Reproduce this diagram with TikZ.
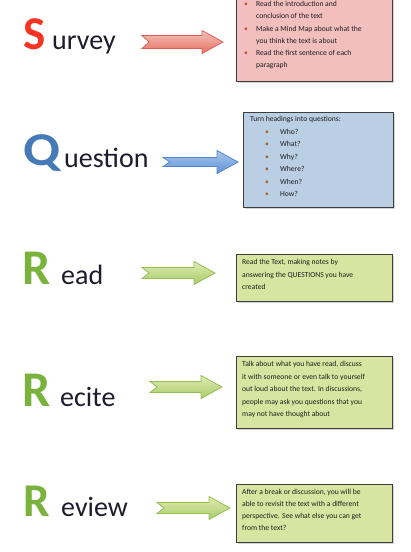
\documentclass[tikz,border=0pt]{standalone}
\usepackage{fontspec}
\setmainfont{Carlito}
\usetikzlibrary{calc,shadows}
\definecolor{surveyred}{RGB}{246,52,36}
\definecolor{questionblue}{RGB}{70,122,182}
\definecolor{rgreen}{RGB}{122,178,62}
\definecolor{wordcol}{RGB}{28,28,44}
\definecolor{notecol}{RGB}{30,30,30}
\definecolor{boxline}{RGB}{62,62,62}
\definecolor{redfill}{RGB}{242,190,190}
\definecolor{bluefill}{RGB}{186,206,228}
\definecolor{greenfill}{RGB}{216,229,160}
\definecolor{redbullet}{RGB}{205,80,60}
\definecolor{bluebullet}{RGB}{165,95,40}
\tikzset{
  bigletter/.style={inner sep=0pt,anchor=base west,font=\bfseries\fontsize{47}{47}\selectfont},
  word/.style={inner sep=0pt,anchor=base west,text=wordcol,font=\fontsize{28}{28}\selectfont},
  notebox/.style={draw=boxline,line width=1.2pt,anchor=north west,inner sep=0pt,
    drop shadow={shadow xshift=1.2pt,shadow yshift=-1.6pt,opacity=0.35}},
  boxtext/.style={inner sep=0pt,anchor=north west,align=left,text=notecol,font=\fontsize{7.6}{12.2}\selectfont},
  redarrow/.style={draw={rgb,255:red,222;green,96;blue,86},line width=0.8pt,
    top color={rgb,255:red,246;green,196;blue,188},bottom color={rgb,255:red,228;green,110;blue,98}},
  bluearrow/.style={draw={rgb,255:red,84;green,134;blue,204},line width=0.8pt,
    top color={rgb,255:red,170;green,200;blue,238},bottom color={rgb,255:red,96;green,146;blue,214}},
  greenarrow/.style={draw={rgb,255:red,150;green,190;blue,84},line width=0.8pt,
    top color={rgb,255:red,222;green,236;blue,178},bottom color={rgb,255:red,168;green,204;blue,104}}
}
\newcommand{\blockarrow}[4]{%
  \path[#3] let \p1=(#1), \p2=(#2) in
    (\x1,\y1+#4) -- (\x2-21pt,\y1+#4) -- (\x2-21pt,\y1+11.5pt) -- (\x2,\y2)
    -- (\x2-21pt,\y1-11.5pt) -- (\x2-21pt,\y1-#4) -- (\x1,\y1-#4) -- (\x1+7pt,\y1) -- cycle;}

\begin{document}
\begin{tikzpicture}[x=1pt,y=-1pt]
          \path[use as bounding box] (0,0) rectangle (410,552);
          \clip (0,0) rectangle (410,552);

          \node (s-letter) at (23.5,49) [bigletter,text=surveyred] {S};
          \node (s-word) at (52,49) [word] {urvey};
          \node (q-letter) at (23.5,165) [bigletter,text=questionblue] {\scalebox{1.15}[1]{Q}};
          \node (q-word) at (64,167.5) [word] {uestion};
          \node (r1-letter) at (22.5,284) [bigletter,text=rgreen,font=\bfseries\fontsize{50}{50}\selectfont] {R};
          \node (r1-word) at (61,284) [word] {ead};
          \node (r2-letter) at (22.5,406) [bigletter,text=rgreen,font=\bfseries\fontsize{50}{50}\selectfont] {R};
          \node (r2-word) at (60,406) [word] {ecite};
          \node (r3-letter) at (23.5,516) [bigletter,text=rgreen] {R};
          \node (r3-word) at (61,516) [word] {eview};

          \node (s-box) at (236,-6) [notebox,fill=redfill,minimum width=156pt,minimum height=87pt] {};
          \node (q-box) at (243,112) [notebox,fill=bluefill,minimum width=150pt,minimum height=95pt] {};
          \node (r1-box) at (236,254) [notebox,fill=greenfill,minimum width=156pt,minimum height=47pt] {};
          \node (r2-box) at (236,356) [notebox,fill=greenfill,minimum width=156pt,minimum height=72pt] {};
          \node (r3-box) at (236,484) [notebox,fill=greenfill,minimum width=156pt,minimum height=58pt] {};

          \coordinate (s-tail) at (142,42);   \coordinate (s-tip) at (223,42);
          \coordinate (q-tail) at (163,162);  \coordinate (q-tip) at (238,162);
          \coordinate (r1-tail) at (142,273); \coordinate (r1-tip) at (215,273);
          \coordinate (r2-tail) at (150,387); \coordinate (r2-tip) at (222,387);
          \coordinate (r3-tail) at (157,508); \coordinate (r3-tip) at (230,508);

          \blockarrow{s-tail}{s-tip}{redarrow}{6.5pt}
          \blockarrow{q-tail}{q-tip}{bluearrow}{4.5pt}
          \blockarrow{r1-tail}{r1-tip}{greenarrow}{5.5pt}
          \blockarrow{r2-tail}{r2-tip}{greenarrow}{5.5pt}
          \blockarrow{r3-tail}{r3-tip}{greenarrow}{5.5pt}

          \node (s-text) at ($(s-box.north west)+(8,7.3)$) [boxtext]
            {\makebox[12pt][l]{\textcolor{redbullet}{\textbullet}}Read the introduction and\\
             \hspace*{12pt}conclusion of the text\\
             \makebox[12pt][l]{\textcolor{redbullet}{\textbullet}}Make a Mind Map about what the\\
             \hspace*{12pt}you think the text is about\\
             \makebox[12pt][l]{\textcolor{redbullet}{\textbullet}}Read the first sentence of each\\
             \hspace*{12pt}paragraph};
          \node (q-text) at ($(q-box.north west)+(7,4.5)$) [boxtext,font=\fontsize{7.6}{12.5}\selectfont]
            {Turn headings into questions:\\
             \hspace*{15pt}\makebox[15pt][l]{\textcolor{bluebullet}{\textbullet}}Who?\\
             \hspace*{15pt}\makebox[15pt][l]{\textcolor{bluebullet}{\textbullet}}What?\\
             \hspace*{15pt}\makebox[15pt][l]{\textcolor{bluebullet}{\textbullet}}Why?\\
             \hspace*{15pt}\makebox[15pt][l]{\textcolor{bluebullet}{\textbullet}}Where?\\
             \hspace*{15pt}\makebox[15pt][l]{\textcolor{bluebullet}{\textbullet}}When?\\
             \hspace*{15pt}\makebox[15pt][l]{\textcolor{bluebullet}{\textbullet}}How?};
          \node (r1-text) at ($(r1-box.north west)+(6,5.5)$) [boxtext]
            {Read the Text, making notes by\\
             answering the QUESTIONS you have\\
             created};
          \node (r2-text) at ($(r2-box.north west)+(6,5.5)$) [boxtext,font=\fontsize{7.6}{12.4}\selectfont]
            {Talk about what you have read, discuss\\
             it with someone or even talk to yourself\\
             out loud about the text. In discussions,\\
             people may ask you questions that you\\
             may not have thought about};
          \node (r3-text) at ($(r3-box.north west)+(6,5.5)$) [boxtext,font=\fontsize{7.6}{11.8}\selectfont]
            {After a break or discussion, you will be\\
             able to revisit the text with a different\\
             perspective. See what else you can get\\
             from the text?};
        \end{tikzpicture}
\end{document}
